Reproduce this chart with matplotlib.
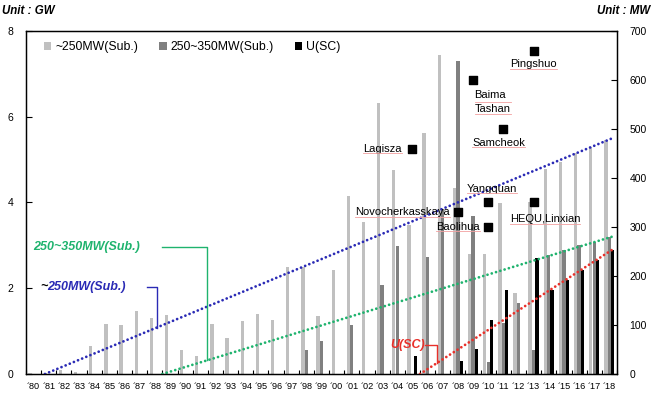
"""Coal unit capacity by year (GW bars) with representative plant sizes (MW markers)."""
import numpy as np
import matplotlib
matplotlib.use('Agg')
import matplotlib.pyplot as plt
from matplotlib.lines import Line2D

plt.rcParams['font.family'] = ['Liberation Sans', 'DejaVu Sans']

years = ["\u00b4%02d" % (y % 100) for y in range(1980, 2019)]

# GW installed per year
sub_250 = [0.02, 0.03, 0.1, 0.05, 0.65, 1.17, 1.14, 1.48, 1.31, 1.37,
           0.56, 0.43, 1.16, 0.84, 1.24, 1.41, 1.25, 2.49, 2.5, 1.35,
           2.42, 4.15, 3.54, 6.33, 4.76, 3.47, 5.61, 7.43, 4.33, 2.8,
           2.8, 3.98, 1.9, 4.02, 4.77, 4.95, 5.16, 5.3, 5.45]
sub_250_350 = [0, 0, 0, 0, 0, 0, 0, 0, 0, 0,
               0, 0, 0, 0, 0, 0, 0, 0, 0.57, 0.76,
               0, 1.14, 0, 2.07, 2.98, 0, 2.73, 3.85, 7.3, 3.68,
               0.29, 1.18, 1.65, 0.56, 2.77, 2.89, 3.0, 3.08, 3.2]
usc = [0, 0, 0, 0, 0, 0, 0, 0, 0, 0,
       0, 0, 0, 0, 0, 0, 0, 0, 0, 0,
       0, 0, 0, 0, 0, 0.42, 0, 0, 0.31, 0.58,
       1.27, 1.97, 0, 2.7, 1.96, 2.19, 2.42, 2.66, 2.9]

# plant unit sizes (MW), year index into `years`
plants = ["Pingshuo", "Baima\nTashan", "Samcheok", "Lagisza", "Yangquan",
          "HEQU,Linxian", "Novocherkasskaya", "Baolihua"]
plant_year = [33, 29, 31, 25, 30, 33, 28, 30]
plant_mw = [660, 600, 500, 460, 350, 350, 330, 300]

# trend lines: (start index, start GW, end index, end GW)
trend_250 = [0.75, 0.0, 38.2, 5.5]
trend_350 = [8.5, 0.0, 38.15, 3.2]
trend_usc = [25.5, 0.0, 38.15, 2.89]

c_light, c_dark, c_black = '#c0c0c0', '#808080', '#000000'
c_blue, c_green, c_red = '#2a2ab5', '#1fb36e', '#e8302a'

fig = plt.figure(figsize=(6.54, 4.0), dpi=100)
ax = fig.add_axes([0.0398, 0.065, 0.9036, 0.8575])
ax2 = ax.twinx()

x = np.arange(len(years))
w = 0.22
ax.bar(x - 0.23, sub_250, w, color=c_light, label='~250MW(Sub.)', zorder=2)
ax.bar(x, sub_250_350, w, color=c_dark, label='250~350MW(Sub.)', zorder=2)
ax.bar(x + 0.22, usc, w, color=c_black, label='U(SC)', zorder=2)


def trend_at(tr, xi):
    return tr[1] + (tr[3] - tr[1]) * (xi - tr[0]) / (tr[2] - tr[0])


for tr, col in ((trend_250, c_blue), (trend_350, c_green), (trend_usc, c_red)):
    ax.plot([tr[0], tr[2]], [tr[1], tr[3]], color=col, lw=2,
            linestyle=(0, (0.01, 1.6)), dash_capstyle='round', zorder=4)

# callouts for the trend lines
tx = 8.13
ax.plot([7.47, tx, tx], [2.03, 2.03, trend_at(trend_250, tx)], color=c_blue, lw=1, zorder=4)
ax.text(0.42, 2.03, '~', color='black', fontsize=9, fontweight='bold',
        fontstyle='italic', va='center', ha='left')
ax.text(0.9, 2.03, '250MW(Sub.)', color=c_blue, fontsize=9, fontweight='bold',
        fontstyle='italic', va='center', ha='left')
tx = 11.47
ax.plot([8.46, tx, tx], [2.97, 2.97, trend_at(trend_350, tx)], color=c_green, lw=1, zorder=4)
ax.text(-0.05, 2.97, '250~350MW(Sub.)', color=c_green, fontsize=9, fontweight='bold',
        fontstyle='italic', va='center', ha='left')
tx = 26.6
ax.plot([25.83, tx, tx], [0.68, 0.68, trend_at(trend_usc, tx)], color=c_red, lw=1, zorder=4)
ax.text(25.8, 0.68, 'U(SC)', color=c_red, fontsize=9, fontweight='bold',
        fontstyle='italic', va='center', ha='right')

ax2.scatter(plant_year, plant_mw, marker='s', s=34, color='black', zorder=5)
offsets = {
    "Pingshuo": (0, -10, 'center', 'center'),
    "Baima\nTashan": (0.1, -16, 'left', 'center'),
    "Samcheok": (-2.05, -10, 'left', 'center'),
    "Lagisza": (-0.7, 0, 'right', 'center'),
    "Yangquan": (-1.4, 10, 'left', 'center'),
    "HEQU,Linxian": (0.75, -12, 'center', 'center'),
    "Novocherkasskaya": (-0.55, 0, 'right', 'center'),
    "Baolihua": (-0.55, 0, 'right', 'center'),
}
labels = []
for name, yi, mw in zip(plants, plant_year, plant_mw):
    dx, dy, ha, va = offsets[name]
    t = ax2.annotate(name, (yi + dx, mw), xytext=(0, dy), textcoords='offset points',
                     ha=ha, va=va, fontsize=8, linespacing=1.45, zorder=6)
    labels.append(t)

ax.set_xlim(-0.5, len(years) - 0.5)
ax.set_ylim(0, 8)
ax2.set_ylim(0, 700)
ax.set_yticks([0, 2, 4, 6, 8])
ax2.set_yticks(range(0, 701, 100))
ax.set_xticks(x)
ax.set_xticklabels(years, fontsize=6.6)
ax.set_xticks(np.arange(-0.5, len(years)), minor=True)
ax.tick_params(axis='x', which='major', length=0, pad=6)
ax.tick_params(axis='x', which='minor', direction='in', length=3, width=0.8)
ax.tick_params(axis='y', direction='in', length=4, labelsize=7.5, pad=9)
ax2.tick_params(axis='y', direction='in', length=4, labelsize=7.5, pad=9)
for a in (ax, ax2):
    for s in a.spines.values():
        s.set_linewidth(0.9)

ax.legend(loc='upper left', bbox_to_anchor=(0.022, 0.985), ncol=3, frameon=False,
          fontsize=8.8, handlelength=0.6, handleheight=0.6, handletextpad=0.35,
          columnspacing=1.7, borderaxespad=0)

fig.text(0.003, 0.988, 'Unit : GW', fontsize=8.3, fontweight='bold', fontstyle='italic',
         ha='left', va='top')
fig.text(0.994, 0.988, 'Unit : MW', fontsize=8.3, fontweight='bold', fontstyle='italic',
         ha='right', va='top')

# faint red underline below each plant label, one per text line
fig.canvas.draw()
renderer = fig.canvas.get_renderer()
for t in labels:
    bb = t.get_window_extent(renderer)
    n = t.get_text().count('\n') + 1
    lh = bb.height / n
    for k in range(n):
        yb = bb.y0 + k * lh + 0.5
        fig.add_artist(Line2D([bb.x0 / fig.bbox.width, bb.x1 / fig.bbox.width],
                              [yb / fig.bbox.height] * 2, color='#f2a0a0', lw=0.6,
                              zorder=7))

fig.savefig('out.png', dpi=100)
